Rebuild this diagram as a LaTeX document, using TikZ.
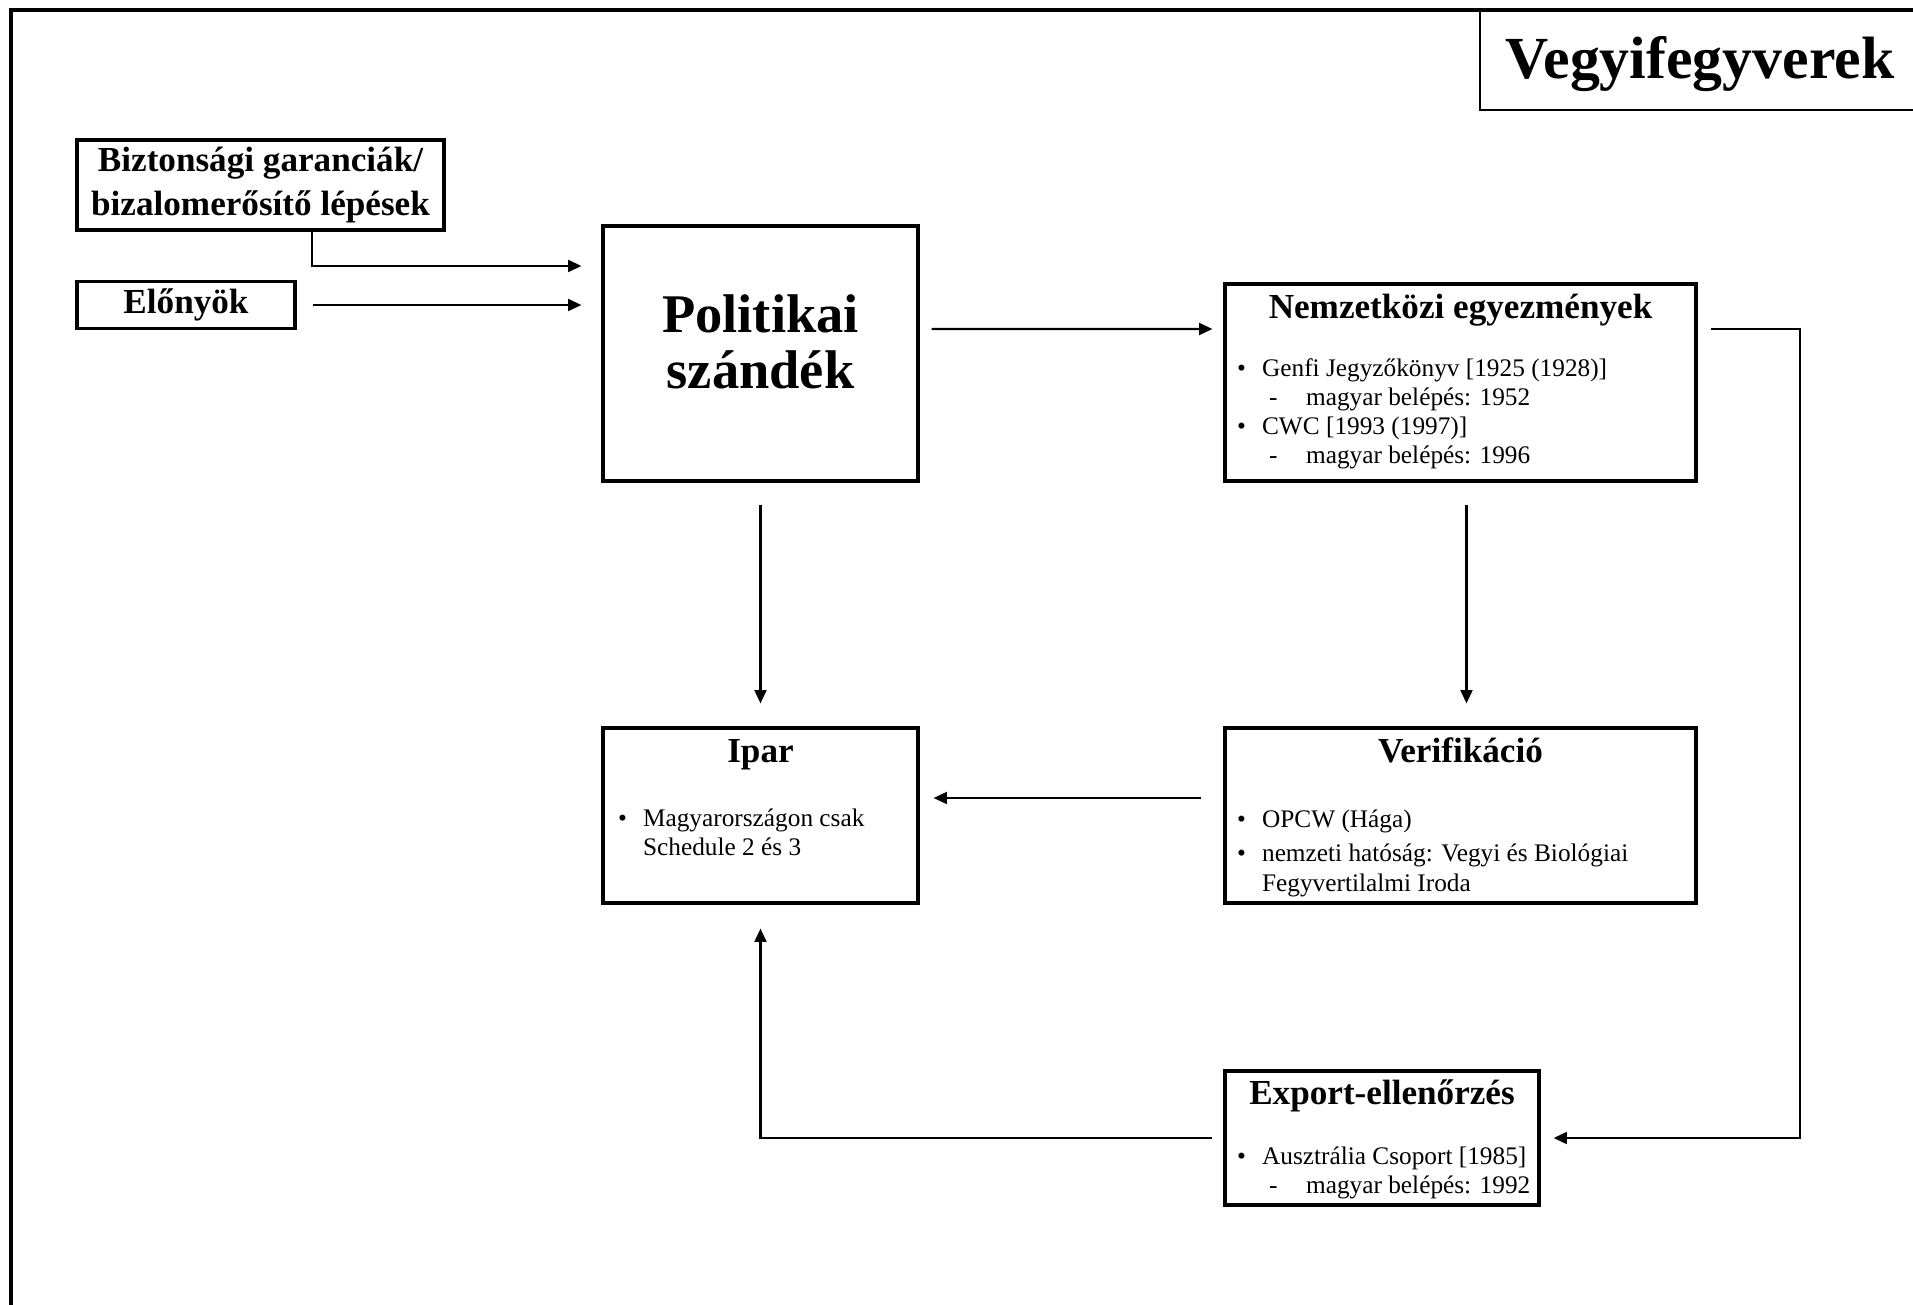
\documentclass[tikz,border=0pt]{standalone}
\usepackage{fontspec}
\setmainfont{Liberation Serif}
\usetikzlibrary{arrows.meta}

\newcommand{\bul}{\makebox[0.25cm][l]{\textbullet}}
\newcommand{\dashitem}[1]{\hspace*{0.32cm}\makebox[0.37cm][l]{-}#1}

\tikzset{
  box/.style={draw,line width=.9pt,rectangle,inner sep=2pt},
  head/.style={font=\fontsize{10}{11}\selectfont\bfseries,anchor=base,inner sep=0pt},
  body/.style={font=\fontsize{7.2}{8.3}\selectfont,anchor=base west,inner sep=0pt},
  arr/.style={-{Triangle[length=3.8pt,width=3.4pt]},line width=.6pt}
}

\begin{document}
\begin{tikzpicture}
\useasboundingbox (0,0) rectangle (19.13,-13.05);

% frame and title
\draw[line width=1pt] (0.11,-13.3) -- (0.11,-0.10) -- (19.4,-0.10);
\draw[line width=.7pt] (14.80,-0.10) |- (19.4,-1.10);
\node[font=\fontsize{17}{19}\selectfont\bfseries,anchor=base,inner sep=0pt] (title) at (17.0,-0.79) {Vegyifegyverek};

% boxes
\node[box,minimum width=3.67cm,minimum height=.82cm,align=center,font=\fontsize{10}{12.5}\selectfont\bfseries] (bizt) at (2.605,-1.85) {Biztonsági garanciák/\\bizalomerősítő lépések};
\node[box,minimum width=2.18cm,minimum height=.42cm,font=\fontsize{10}{11}\selectfont\bfseries] (elony) at (1.86,-3.05) {Előnyök};
\node[box,minimum width=3.15cm,minimum height=2.55cm] (polit) at (7.605,-3.535) {};
\node[box,minimum width=4.71cm,minimum height=1.97cm] (nemz) at (14.605,-3.825) {};
\node[box,minimum width=3.15cm,minimum height=1.75cm] (ipar) at (7.605,-8.155) {};
\node[box,minimum width=4.71cm,minimum height=1.75cm] (verif) at (14.605,-8.155) {};
\node[box,minimum width=3.14cm,minimum height=1.34cm] (export) at (13.82,-11.38) {};

% box texts
\node[align=center,inner sep=0pt,font=\fontsize{15.5}{16}\selectfont\bfseries] (polith) at ([yshift=.12cm]polit.center) {Politikai\\szándék};
\node[head] (nemzh) at ([yshift=-.36cm]nemz.north) {Nemzetközi egyezmények};
\node[body] (nemzl) at ([shift={(.13cm,-.94cm)}]nemz.north west) {\begin{tabular}[t]{@{}l@{}}
\bul Genfi Jegyzőkönyv [1925 (1928)]\\
\dashitem{magyar belépés: 1952}\\
\bul CWC [1993 (1997)]\\
\dashitem{magyar belépés: 1996}
\end{tabular}};
\node[head] (iparh) at ([yshift=-.36cm]ipar.north) {Ipar};
\node[body] (iparl) at ([shift={(.16cm,-1.0cm)}]ipar.north west) {\begin{tabular}[t]{@{}l@{}}
\bul Magyarországon csak\\
\hspace*{.25cm}Schedule 2 és 3
\end{tabular}};
\node[head] (verifh) at ([yshift=-.36cm]verif.north) {Verifikáció};
\node[body] (verifl) at ([shift={(.13cm,-1.01cm)}]verif.north west) {\begin{tabular}[t]{@{}l@{}}
\bul OPCW (Hága)\\[1.5pt]
\bul nemzeti hatóság: Vegyi és Biológiai\\
\hspace*{.25cm}Fegyvertilalmi Iroda
\end{tabular}};
\node[head] (exporth) at ([yshift=-.35cm]export.north) {Export-ellenőrzés};
\node[body] (exportl) at ([shift={(.13cm,-.95cm)}]export.north west) {\begin{tabular}[t]{@{}l@{}}
\bul Ausztrália Csoport [1985]\\
\dashitem{magyar belépés: 1992}
\end{tabular}};

% arrows
\coordinate (bend) at (18.0,-3.29);
\draw[arr] ([xshift=.515cm]bizt.south) |- ([shift={(-2mm,8.75mm)}]polit.west);
\draw[arr] ([xshift=1.6mm]elony.east) -- ([xshift=-2mm]polit.west |- elony.east);
\draw[arr] ([shift={(1.2mm,2.45mm)}]polit.east) -- ([shift={(-1.1mm,5.35mm)}]nemz.west);
\draw[arr] ([xshift=1.3mm]nemz.east |- bend) -- (bend) |- ([xshift=1.3mm]export.east);
\draw[arr] ([yshift=-2.2mm]polit.south) -- ([yshift=2.3mm]ipar.north);
\draw[arr] ([shift={(.6mm,-2.2mm)}]nemz.south) -- ([shift={(.6mm,2.3mm)}]verif.north);
\draw[arr] ([shift={(-2.2mm,1.75mm)}]verif.west) -- ([shift={(1.4mm,1.75mm)}]ipar.east);
\draw[arr] ([xshift=-1.1mm]export.west) -| ([yshift=-2.4mm]ipar.south);

\end{tikzpicture}
\end{document}
